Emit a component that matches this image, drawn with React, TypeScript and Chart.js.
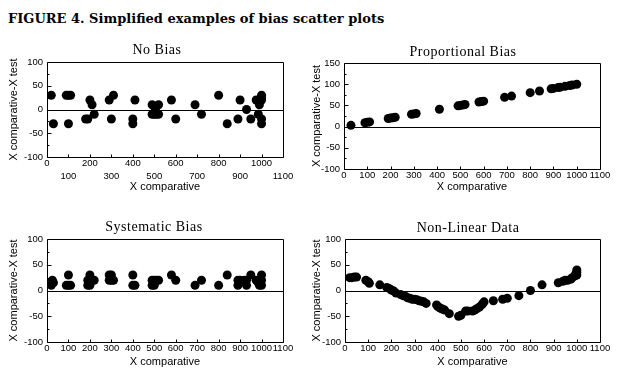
import React, { useEffect, useRef } from "react";
import { Chart, registerables } from "chart.js";

Chart.register(...registerables);

// ---------- data ----------
const FIGURE_TITLE = "FIGURE 4. Simplified examples of bias scatter plots";
const PANEL_TITLES = ["No Bias", "Proportional Bias", "Systematic Bias", "Non-Linear Data"];
const X_AXIS_TITLE = "X comparative";
const Y_AXIS_TITLE = "X comparative-X test";

const X_MIN = 0;
const X_MAX = 1100;
const X_STEP = 100;

const noBiasX = [20, 30, 90, 100, 110, 100, 180, 190, 200, 210, 220, 290, 310, 300, 400, 400, 410, 490, 520, 490, 500, 510, 505, 580, 600, 690, 720, 800, 840, 890, 900, 930, 950, 975, 985, 990, 1000, 1000, 1000, 1000, 1000, 520];
const noBiasY = [30, -30, 30, 30, 30, -30, -20, -20, 20, 10, -10, 20, 30, -20, -20, -30, 20, 10, 10, -10, -10, -10, 0, 20, -20, 10, -10, 30, -30, -20, 20, 0, -20, 20, -10, 10, 30, 20, -20, -30, 25, -10];

const propX = [30, 90, 100, 110, 190, 200, 210, 220, 290, 300, 310, 410, 490, 500, 510, 520, 580, 590, 600, 690, 720, 800, 840, 890, 900, 920, 930, 950, 970, 980, 1000];
const propY = [3, 9, 10, 11, 19, 20, 21, 22, 29, 30, 31, 41, 49, 50, 51, 52, 58, 59, 60, 69, 72, 80, 84, 89, 90, 92, 93, 95, 97, 98, 100];

const sysX = [20, 25, 30, 100, 90, 100, 110, 190, 190, 200, 200, 210, 220, 290, 290, 300, 300, 310, 400, 400, 410, 490, 490, 500, 500, 510, 520, 580, 600, 690, 720, 800, 840, 890, 890, 900, 920, 930, 930, 950, 975, 985, 990, 1000, 1000, 1000];
const sysY = [10, 20, 15, 30, 10, 10, 10, 20, 10, 30, 10, 20, 20, 20, 30, 30, 20, 20, 30, 10, 10, 20, 10, 10, 20, 20, 20, 30, 20, 10, 20, 10, 30, 10, 20, 20, 20, 10, 20, 30, 20, 15, 10, 30, 10, 20];

const nonLinX = [20, 30, 40, 50, 90, 100, 105, 150, 180, 190, 200, 210, 220, 240, 250, 260, 270, 280, 290, 300, 310, 320, 330, 340, 350, 395, 400, 410, 420, 430, 450, 490, 500, 520, 530, 550, 560, 570, 580, 590, 595, 600, 640, 680, 700, 750, 800, 850, 920, 940, 950, 960, 975, 980, 990, 995, 1000, 1000, 1000];
const nonLinY = [25, 25, 26, 26, 20, 17, 14, 11, 6, 4, 1, -1, -5, -8, -10, -11, -14, -15, -17, -17, -18, -20, -21, -22, -25, -28, -31, -34, -36, -38, -45, -50, -48, -40, -40, -40, -38, -35, -32, -28, -25, -22, -20, -17, -15, -10, 0, 11, 15, 18, 20, 20, 22, 25, 28, 32, 35, 40, 30];

const Y_RANGES = [
  [-100, 100],
  [-100, 150],
  [-100, 100],
  [-100, 100],
];
const Y_STEP = 50;

// ---------- layout ----------
type Geo = {
  left: number; top: number; w: number; h: number;
  plotL: number; plotR: number; plotT: number; plotB: number;
  yTitlePad: number; xTitlePad: number; stagger: boolean;
  titleCx: number; titleCy: number;
};

const GEOS: Geo[] = [
  { left: 0, top: 40, w: 310, h: 160, plotL: 47, plotR: 283, plotT: 22, plotB: 117, yTitlePad: 7, xTitlePad: 6, stagger: true, titleCx: 157, titleCy: 50 },
  { left: 310, top: 40, w: 312, h: 160, plotL: 34, plotR: 290, plotT: 23, plotB: 129, yTitlePad: 0, xTitlePad: 6, stagger: false, titleCx: 463, titleCy: 52 },
  { left: 0, top: 215, w: 310, h: 163, plotL: 47, plotR: 283, plotT: 24, plotB: 127, yTitlePad: 7, xTitlePad: 9, stagger: false, titleCx: 154, titleCy: 227 },
  { left: 310, top: 215, w: 312, h: 163, plotL: 35, plotR: 290, plotT: 24, plotB: 127, yTitlePad: 0, xTitlePad: 9, stagger: false, titleCx: 468, titleCy: 228 },
];

const TICK_FONT = { family: "'Liberation Sans', Arial, sans-serif", size: 9.5, lineHeight: 1.35 };
const AXIS_TITLE_FONT = { family: "'Liberation Sans', Arial, sans-serif", size: 11, lineHeight: 1.2 };

const framePlugin = {
  id: "frame",
  beforeDatasetsDraw(chart: any) {
    const { ctx, chartArea, scales } = chart;
    const l = Math.round(chartArea.left) + 0.5;
    const r = Math.round(chartArea.right) + 0.5;
    const t = Math.round(chartArea.top) + 0.5;
    const b = Math.round(chartArea.bottom) + 0.5;
    ctx.save();
    ctx.strokeStyle = "#000";
    ctx.lineWidth = 1;
    ctx.beginPath();
    ctx.rect(l, t, r - l, b - t);
    // zero line
    const z = Math.round(scales.y.getPixelForValue(0)) + 0.5;
    ctx.moveTo(l, z);
    ctx.lineTo(r, z);
    // inner x ticks
    for (let v = X_MIN; v <= X_MAX; v += X_STEP) {
      const px = Math.round(scales.x.getPixelForValue(v)) + 0.5;
      ctx.moveTo(px, b);
      ctx.lineTo(px, b - 3);
    }
    // inner y ticks
    const ymin = scales.y.min;
    const ymax = scales.y.max;
    for (let v = ymin; v <= ymax; v += Y_STEP / 2) {
      const py = Math.round(scales.y.getPixelForValue(v)) + 0.5;
      const len = v % Y_STEP === 0 ? 4 : 2;
      ctx.moveTo(l, py);
      ctx.lineTo(l + len, py);
    }
    ctx.stroke();
    ctx.restore();
  },
};

function Panel({ idx, xs, ys }: { idx: number; xs: number[]; ys: number[] }) {
  const ref = useRef<HTMLCanvasElement>(null);
  const g = GEOS[idx];
  useEffect(() => {
    const canvas = ref.current;
    if (!canvas) return;
    const [yMin, yMax] = Y_RANGES[idx];
    const points = xs.map((x, i) => ({ x, y: ys[i] }));
    const chart = new Chart(canvas, {
      type: "scatter",
      data: {
        datasets: [
          {
            data: points,
            backgroundColor: "#000",
            borderColor: "#000",
            pointRadius: 4.5,
            pointBorderWidth: 0,
            pointHoverRadius: 4.5,
          },
        ],
      },
      options: {
        animation: false,
        responsive: false,
        devicePixelRatio: 1,
        events: [],
        layout: { padding: { left: 0, top: g.plotT, right: g.w - g.plotR, bottom: 0 } },
        plugins: { legend: { display: false }, title: { display: false }, tooltip: { enabled: false } },
        scales: {
          x: {
            type: "linear",
            min: X_MIN,
            max: X_MAX,
            grid: { display: false, drawTicks: false },
            border: { display: false },
            ticks: {
              stepSize: X_STEP,
              autoSkip: false,
              maxRotation: 0,
              minRotation: 0,
              padding: 0,
              color: "#000",
              font: TICK_FONT,
              callback: (value: any, index: number) =>
                g.stagger && index % 2 === 1 ? ["", String(value)] : String(value),
            },
            title: {
              display: true,
              text: X_AXIS_TITLE,
              color: "#000",
              font: AXIS_TITLE_FONT,
              padding: { top: 0, bottom: g.xTitlePad },
            },
            afterFit: (scale: any) => {
              scale.height = g.h - g.plotB;
            },
          },
          y: {
            type: "linear",
            min: yMin,
            max: yMax,
            grid: { display: false, drawTicks: false },
            border: { display: false },
            ticks: {
              stepSize: Y_STEP,
              padding: 4,
              color: "#000",
              font: TICK_FONT,
            },
            title: {
              display: true,
              text: Y_AXIS_TITLE,
              color: "#000",
              font: AXIS_TITLE_FONT,
              padding: { top: g.yTitlePad, bottom: 0 },
            },
            afterFit: (scale: any) => {
              scale.width = g.plotL;
            },
          },
        },
      },
      plugins: [framePlugin],
    });
    return () => chart.destroy();
  }, [idx, xs, ys]);

  return (
    <>
      <canvas
        ref={ref}
        width={g.w}
        height={g.h}
        style={{ position: "absolute", left: g.left, top: g.top, width: g.w, height: g.h }}
      />
      <div
        style={{
          position: "absolute",
          left: g.titleCx - 100,
          width: 200,
          top: g.titleCy - 9,
          height: 18,
          lineHeight: "18px",
          textAlign: "center",
          fontFamily: "'Liberation Serif', 'Times New Roman', serif",
          fontSize: 14,
          letterSpacing: 0.5,
          color: "#000",
          whiteSpace: "nowrap",
        }}
      >
        {PANEL_TITLES[idx]}
      </div>
    </>
  );
}

export default function App() {
  return (
    <div
      style={{
        position: "fixed",
        left: 0,
        top: 0,
        width: 622,
        height: 378,
        background: "#fff",
        overflow: "hidden",
      }}
    >
      <div
        style={{
          position: "absolute",
          left: 8,
          top: 10,
          lineHeight: "18px",
          fontFamily: "'DejaVu Serif', serif",
          fontWeight: 900,
          fontSize: 13,
          color: "#000",
          whiteSpace: "nowrap",
        }}
      >
        {FIGURE_TITLE}
      </div>
      <Panel idx={0} xs={noBiasX} ys={noBiasY} />
      <Panel idx={1} xs={propX} ys={propY} />
      <Panel idx={2} xs={sysX} ys={sysY} />
      <Panel idx={3} xs={nonLinX} ys={nonLinY} />
    </div>
  );
}
